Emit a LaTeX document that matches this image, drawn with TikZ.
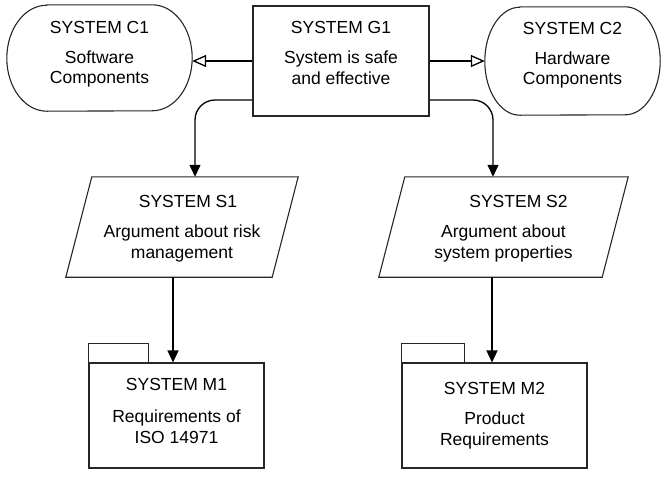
\documentclass[tikz,border=0pt]{standalone}
\usepackage{fontspec}
\setmainfont{Liberation Sans}
\usetikzlibrary{arrows.meta,positioning,calc}

\begin{document}
\begin{tikzpicture}[
    x=1pt, y=-1pt,
    font=\fontsize{17.5}{20.5}\selectfont,
    every node/.style={align=center, inner sep=0pt},
    lift/.style={text depth=#1},
    goal/.style={rectangle, draw=black!85, line width=1.1pt, minimum width=176pt, minimum height=110pt},
    context/.style={rectangle},
    strategy/.style={rectangle, minimum height=100pt},
    module/.style={rectangle, draw=black!85, line width=1.1pt, minimum height=105pt},
    outline/.style={draw=black!85, line width=1.1pt},
    arrow/.style={-{Triangle[length=12pt, width=11pt]}, line width=1.3pt},
    openarrow/.style={-{Triangle[open, length=14pt, width=12pt]}, line width=1.3pt}
]
\useasboundingbox (0,0) rectangle (667,488);

% Goal
\node[goal, lift=16pt] (g1) at (341,61) {SYSTEM G1\\[9.5pt]System is safe\\and effective};

% Context nodes (oval ends drawn round the nodes)
\node[context, minimum width=185pt, minimum height=106pt, lift=11.7pt] (c1) at (99.5,58) {SYSTEM C1\\[9.5pt]Software\\Components};
\node[context, minimum width=175pt, minimum height=108pt, lift=15.7pt] (c2) at (572.5,61) {SYSTEM C2\\[9.5pt]Hardware\\Components};
\draw[outline] ([xshift=40pt]c1.north west) -- ([xshift=-40pt]c1.north east)
    arc[start angle=90, end angle=-90, x radius=40pt, y radius=53pt]
    -- ([xshift=40pt]c1.south west)
    arc[start angle=270, end angle=90, x radius=40pt, y radius=53pt] -- cycle;
\draw[outline] ([xshift=35pt]c2.north west) -- ([xshift=-35pt]c2.north east)
    arc[start angle=90, end angle=-90, x radius=35pt, y radius=54pt]
    -- ([xshift=35pt]c2.south west)
    arc[start angle=270, end angle=90, x radius=35pt, y radius=54pt] -- cycle;

% Strategies (parallelograms drawn round the nodes)
\node[strategy, minimum width=206pt, lift=0pt] (s1) at (182,227) {\hspace*{12pt}SYSTEM S1\\[9.5pt]Argument about risk\\management};
\node[strategy, minimum width=223pt, lift=0pt] (s2) at (503.5,227) {\hspace*{30pt}SYSTEM S2\\[9.5pt]Argument about\\system properties};
\draw[outline] ([xshift=13pt]s1.north west) -- ([xshift=13pt]s1.north east) -- ([xshift=-13pt]s1.south east) -- ([xshift=-13pt]s1.south west) -- cycle;
\draw[outline] ([xshift=13pt]s2.north west) -- ([xshift=13pt]s2.north east) -- ([xshift=-13pt]s2.south east) -- ([xshift=-13pt]s2.south west) -- cycle;

% Modules (folder shapes)
\node[module, minimum width=175pt, lift=10pt] (m1) at (176.5,415.5) {SYSTEM M1\\[12pt]Requirements of\\ISO 14971};
\node[module, minimum width=185pt] (m2) at (494.5,415.5) {SYSTEM M2\\[9.5pt]Product\\Requirements};
\draw[outline] (m1.north west) rectangle ++(60,-19);
\draw[outline] (m2.north west) rectangle ++(63,-19);

% Connectors
\draw[openarrow] (g1.west) -- (g1.west -| c1.east);
\draw[openarrow] (g1.east) -- (g1.east -| c2.west);
\draw[arrow, rounded corners=20pt] ([yshift=-39pt]g1.west) -| ([xshift=13pt]s1.north);
\draw[arrow, rounded corners=20pt] ([yshift=-39pt]g1.east) -| ([xshift=-10.5pt]s2.north);
\draw[arrow] ([xshift=-9pt]s1.south) -- ([xshift=-9pt]s1.south |- m1.north);
\draw[arrow] ([xshift=-11.5pt]s2.south) -- ([xshift=-11.5pt]s2.south |- m2.north);

\end{tikzpicture}
\end{document}
